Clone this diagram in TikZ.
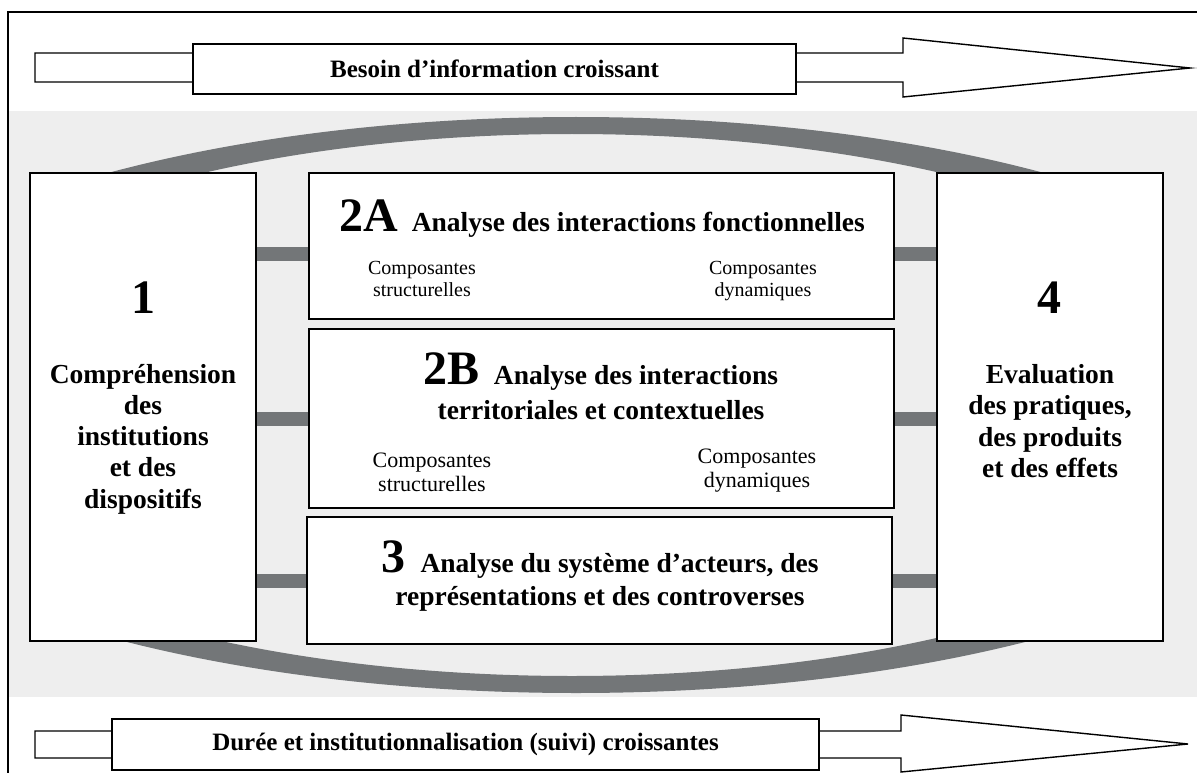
\documentclass[tikz,border=0pt]{standalone}
\usepackage{fontspec}
\setmainfont{Liberation Serif}
\usetikzlibrary{arrows}
\definecolor{ringgray}{RGB}{115,118,120}
\definecolor{bggray}{RGB}{238,238,238}
\newcommand{\bignum}[1]{{\fontsize{48}{48}\selectfont #1}}

\begin{document}
\begin{tikzpicture}[x=1pt,y=-1pt,line join=miter,
    box/.style={draw,fill=white,line width=1.6pt,inner sep=0pt},
    arrow outline/.style={draw,fill=white,line width=1.4pt},
    arrow label/.style={font=\fontsize{25}{30}\selectfont\bfseries},
    title/.style={font=\fontsize{27.5}{31.3}\selectfont\bfseries,align=center},
    number/.style={font=\fontsize{48}{48}\selectfont\bfseries,anchor=base},
    sub/.style={font=\fontsize{20}{22}\selectfont,align=center},
    subB/.style={font=\fontsize{22}{24}\selectfont,align=center},
    bar/.style={ringgray,line width=14pt}]
  \useasboundingbox (0,0) rectangle (1197,773);
  \fill[bggray] (8,111) rectangle (1197,697);
  \draw[line width=1.5pt] (8,773) -- (8,12) -- (1197,12);

  \draw[arrow outline] (35,53) -- (903,53) -- (903,38) -- (1190,68)
    -- (903,97) -- (903,82) -- (35,82) -- cycle;
  \node[box,arrow label,minimum width=603pt,minimum height=50pt] (besoin)
    at (494.5,69) {Besoin d'information croissant};
  \draw[arrow outline] (35,731) -- (901,731) -- (901,715) -- (1188,744)
    -- (901,772) -- (901,758) -- (35,758) -- cycle;
  \node[box,arrow label,minimum width=707pt,minimum height=51pt] (duree)
    at (465.5,744.5) {Durée et institutionnalisation (suivi) croissantes};

  \begin{scope}
    \clip (31,111) rectangle (1162,697);
    \fill[ringgray,even odd rule] (576,405) ellipse [x radius=790, y radius=288]
      (572,405) ellipse [x radius=713, y radius=271];
  \end{scope}

  \node[box,minimum width=226pt,minimum height=468pt] (b1) at (143,407) {};
  \node[box,minimum width=585pt,minimum height=146pt] (b2a) at (601.5,246) {};
  \node[box,minimum width=585pt,minimum height=179pt] (b2b) at (601.5,418.5) {};
  \node[box,minimum width=585pt,minimum height=127pt] (b3) at (599.5,580.5) {};
  \node[box,minimum width=226pt,minimum height=468pt] (b4) at (1050,407) {};

  \coordinate (c2a) at ([yshift=-8pt]b2a.west);
  \draw[bar] (b1.east |- c2a) -- (c2a)
    (b2a.east |- c2a) -- (b4.west |- c2a)
    (b1.east |- b2b) -- (b2b.west)
    (b2b.east) -- (b4.west |- b2b)
    (b1.east |- b3) -- (b3.west)
    (b3.east) -- (b4.west |- b3);

  \node[number] (n1) at (143,313) {1};
  \node[title] (t1) at (143,439) {Compréhension\\des\\institutions\\et des\\dispositifs};
  \node[number] (n4) at (1049,313) {4};
  \node[title] (t4) at (1050,421) {Evaluation\\des pratiques,\\des produits\\et des effets};

  \node[title,anchor=base] (t2a) at (602,231)
    {\bignum{2A}\hspace{14pt}Analyse des interactions fonctionnelles};
  \node[sub] (s2a) at (422,279) {Composantes\\structurelles};
  \node[sub] (d2a) at (763,281) {Composantes\\dynamiques};

  \node[title] (t2b) at (601,386)
    {\bignum{2B}\hspace{14pt}Analyse des interactions\\[4pt]territoriales et contextuelles};
  \node[subB] (s2b) at (432,472.5) {Composantes\\structurelles};
  \node[subB] (d2b) at (757,471) {Composantes\\dynamiques};

  \node[title] (t3) at (600,576)
    {\bignum{3}\hspace{15pt}Analyse du système d'acteurs, des\\[1pt]représentations et des controverses};
\end{tikzpicture}
\end{document}
